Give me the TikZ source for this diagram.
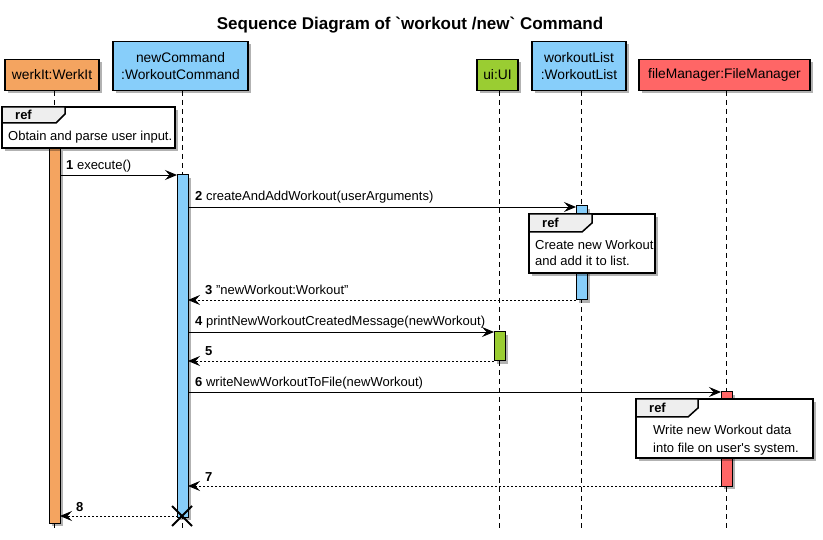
\documentclass[tikz,border=0pt]{standalone}
\usepackage{fontspec}
\setmainfont{Liberation Sans}
\usetikzlibrary{arrows.meta,shadows,calc}
\definecolor{cOrange}{HTML}{F4A460}
\definecolor{cBlue}{HTML}{87CEFA}
\definecolor{cGreen}{HTML}{9ACD32}
\definecolor{cRed}{HTML}{FF6666}
\definecolor{cTab}{HTML}{EEEEEE}
\tikzset{
  shad/.style={drop shadow={shadow xshift=3pt,shadow yshift=-3pt,opacity=0.3,fill=black}},
  part/.style={draw=black,line width=1.3pt,inner sep=0pt,outer sep=0pt,align=center,
     font=\fontsize{13.8}{16.5}\selectfont,shad},
  act/.style={draw=black,line width=1pt,inner sep=0pt,outer sep=0pt,anchor=north west,shad,minimum width=11pt},
  lifeline/.style={line width=0.8pt,dash pattern=on 5pt off 4pt},
  msg/.style={line width=0.9pt,-{Stealth[length=12pt,width=10pt,inset=4.5pt]}},
  ret/.style={msg,dash pattern=on 2pt off 2pt},
  lbl/.style={anchor=base west,inner sep=0pt,font=\fontsize{13}{15}\selectfont},
  reftext/.style={anchor=base west,inner sep=0pt,font=\fontsize{13}{15}\selectfont},
  refframe/.style={draw=black,line width=1.5pt,fill=white,shad},
  reftab/.style={draw=black,line width=1.5pt,fill=cTab},
  refword/.style={anchor=base west,inner sep=0pt,font=\fontsize{13}{15}\selectfont\bfseries}
}
\begin{document}
\begin{tikzpicture}[x=1pt,y=-1pt]
\useasboundingbox (0,0) rectangle (823,540);
% title
\node[anchor=base,inner sep=0pt,font=\fontsize{17}{20}\selectfont\bfseries] (title) at (410,30) {Sequence Diagram of \textasciigrave workout /new\textasciigrave{} Command};
% lifelines
\coordinate (lw) at (54,91);  \coordinate (lwe) at (54,528);
\coordinate (lc) at (182,91); \coordinate (lce) at (182,528);
\coordinate (lu) at (499,91); \coordinate (lue) at (499,528);
\coordinate (ll) at (581,91); \coordinate (lle) at (581,528);
\coordinate (lf) at (726,91); \coordinate (lfe) at (726,528);
\draw[lifeline] (lw) -- (lwe);
\draw[lifeline] (lc) -- (lce);
\draw[lifeline] (lu) -- (lue);
\draw[lifeline] (ll) -- (lle);
\draw[lifeline] (lf) -- (lfe);
% participants
\node[part,fill=cOrange,minimum width=94pt,minimum height=31pt] (pw) at (52,75) {werkIt:WerkIt};
\node[part,fill=cBlue,minimum width=135pt,minimum height=49pt] (pc) at (180.5,66) {newCommand\\:WorkoutCommand};
\node[part,fill=cGreen,minimum width=41pt,minimum height=31pt] (pu) at (497.5,75) {ui:UI};
\node[part,fill=cBlue,minimum width=94pt,minimum height=49pt] (pl) at (579,66) {workoutList\\:WorkoutList};
\node[part,fill=cRed,minimum width=171pt,minimum height=31pt] (pf) at (724.5,75) {fileManager:FileManager};
% activations
\node[act,fill=cOrange,minimum height=375pt] (aw) at (49,148) {};
\node[act,fill=cBlue,minimum height=342pt] (ac) at (177,175) {};
\node[act,fill=cBlue,minimum height=94pt] (al) at (576,206) {};
\node[act,fill=cGreen,minimum height=29pt] (au) at (494,332) {};
\node[act,fill=cRed,minimum height=94pt] (af) at (721,392) {};
% ref 1
\draw[refframe] (2,107) rectangle (175,148);
\draw[reftab] (2,107) -- (65,107) -- (65,114) -- (56,123) -- (2,123) -- cycle;
\node[refword] (r1w) at (15,120) {ref};
\node[reftext] (r1t) at (8,141) {Obtain and parse user input.};
% messages
\coordinate (m1) at (0,175);
\draw[msg] (aw.east |- m1) -- (ac.west |- m1);
\node[lbl] (l1) at (66,170) {\textbf{1} execute()};
\coordinate (m2) at (0,207);
\draw[msg] (ac.east |- m2) -- (al.west |- m2);
\node[lbl] (l2) at (195,201) {\textbf{2} createAndAddWorkout(userArguments)};
% ref 2
\draw[refframe] (529,214) rectangle (655,273);
\draw[reftab] (529,214) -- (592,214) -- (592,223) -- (582,232) -- (529,232) -- cycle;
\node[refword] (r2w) at (542,228) {ref};
\node[reftext] (r2a) at (535,250) {Create new Workout};
\node[reftext] (r2b) at (535,266) {and add it to list.};
\coordinate (m3) at (0,300);
\draw[ret] (al.west |- m3) -- (ac.east |- m3);
\node[lbl] (l3) at (205,295) {\textbf{3} "newWorkout:Workout"};
\coordinate (m4) at (0,332);
\draw[msg] (ac.east |- m4) -- (au.west |- m4);
\node[lbl] (l4) at (195,326) {\textbf{4} printNewWorkoutCreatedMessage(newWorkout)};
\coordinate (m5) at (0,361);
\draw[ret] (au.west |- m5) -- (ac.east |- m5);
\node[lbl] (l5) at (205,356) {\textbf{5}};
\coordinate (m6) at (0,392);
\draw[msg] (ac.east |- m6) -- (af.west |- m6);
\node[lbl] (l6) at (195,387) {\textbf{6} writeNewWorkoutToFile(newWorkout)};
% ref 3
\draw[refframe] (636,399) rectangle (813,458);
\draw[reftab] (636,399) -- (698,399) -- (698,408) -- (688,417) -- (636,417) -- cycle;
\node[refword] (r3w) at (649,413) {ref};
\node[reftext] (r3a) at (653,435) {Write new Workout data};
\node[reftext] (r3b) at (653,452) {into file on user\textquotesingle s system.};
\coordinate (m7) at (0,486);
\draw[ret] (af.west |- m7) -- (ac.east |- m7);
\node[lbl] (l7) at (205,481) {\textbf{7}};
\coordinate (m8) at (0,516);
\coordinate (xd) at (182,516);
\draw[ret] (xd) -- (aw.east |- m8);
\node[lbl] (l8) at (76,511) {\textbf{8}};
% destroy
\draw[line width=1.8pt] ($(xd)+(-10,-10)$) -- ($(xd)+(10,10)$);
\draw[line width=1.8pt] ($(xd)+(-10,10)$) -- ($(xd)+(10,-10)$);
\end{tikzpicture}
\end{document}
